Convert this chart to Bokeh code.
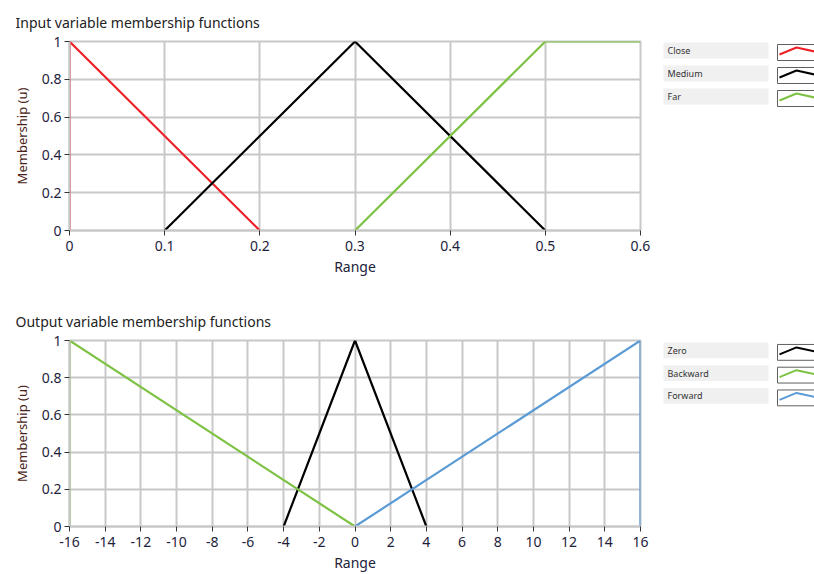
from bokeh.plotting import figure
from bokeh.models import Range1d, FixedTicker, Title
from bokeh.layouts import column, row
from bokeh.embed import file_html
from bokeh.resources import INLINE
from bokeh.core.properties import value

# ---------------- data ----------------
in_names = ["Close", "Medium", "Far"]
in_colors = ["#ee2127", "#000000", "#7dc242"]
close_x = [0, 0, 0.2]
close_y = [0, 1, 0]
medium_x = [0.1, 0.3, 0.5]
medium_y = [0, 1, 0]
far_x = [0.3, 0.5, 0.6]
far_y = [0, 1, 1]
in_ticks = [0, 0.1, 0.2, 0.3, 0.4, 0.5, 0.6]
in_tick_labels = ["0", "0.1", "0.2", "0.3", "0.4", "0.5", "0.6"]

out_names = ["Zero", "Backward", "Forward"]
out_colors = ["#000000", "#7dc242", "#5b9bd5"]
zero_x = [-4, 0, 4]
zero_y = [0, 1, 0]
backward_x = [-16, -16, 0]
backward_y = [0, 1, 0]
forward_x = [0, 16, 16]
forward_y = [0, 1, 0]
out_ticks = list(range(-16, 17, 2))
out_tick_labels = [str(t) for t in out_ticks]

y_ticks = [0, 0.2, 0.4, 0.6, 0.8, 1]
y_tick_labels = ["0", "0.2", "0.4", "0.6", "0.8", "1"]

FONT = "Noto Sans"
TICK_COLOR = "#1e1e3c"
GRID = "#c8c8c8"


def make_plot(title, xr, xticks, xlabels, height, top, bottom):
    p = figure(width=650, height=height, x_range=xr, y_range=Range1d(0, 1),
               output_backend="svg", toolbar_location=None, title=None,
               min_border_left=69, min_border_right=10,
               min_border_top=top, min_border_bottom=bottom)
    p.add_layout(Title(text=title, align="left", offset=-54, standoff=20,
                       text_font=FONT, text_font_size="14px",
                       text_font_style="normal", text_color="#222222"), "above")
    p.outline_line_color = GRID
    p.outline_line_width = 2
    p.background_fill_color = "white"
    p.border_fill_color = "white"
    p.xaxis.ticker = FixedTicker(ticks=xticks)
    p.xaxis.major_label_overrides = {t: l for t, l in zip(xticks, xlabels)}
    p.yaxis.ticker = FixedTicker(ticks=y_ticks)
    p.yaxis.major_label_overrides = {t: l for t, l in zip(y_ticks, y_tick_labels)}
    for ax in (p.xaxis, p.yaxis):
        ax.axis_line_color = GRID
        ax.axis_line_width = 2
        ax.major_tick_in = 0
        ax.major_tick_out = 5
        ax.major_tick_line_color = "#333333"
        ax.minor_tick_line_color = None
        ax.major_label_text_font = FONT
        ax.major_label_text_font_size = "14px"
        ax.major_label_text_color = TICK_COLOR
        ax.axis_label_text_font = FONT
        ax.axis_label_text_font_size = "14px"
        ax.axis_label_text_font_style = "normal"
    p.xaxis.axis_label = "Range"
    p.xaxis.axis_label_text_color = "#22223a"
    p.xaxis.axis_label_standoff = 3
    p.xaxis.major_label_standoff = 5
    p.yaxis.axis_label = "Membership (u)"
    p.yaxis.axis_label_text_font_size = "13px"
    p.yaxis.axis_label_text_color = "#4a2418"
    p.yaxis.axis_label_standoff = 8
    p.yaxis.major_label_standoff = 3
    p.grid.grid_line_color = GRID
    p.grid.grid_line_width = 2
    return p


def make_legend(names, colors, height, top, bottom, frame_top, first_row):
    frame_bottom = frame_top + height - top - bottom
    l = figure(width=164, height=height, x_range=Range1d(650, 814),
               y_range=Range1d(frame_bottom, frame_top), output_backend="svg",
               toolbar_location=None, min_border_left=0, min_border_right=0,
               min_border_top=top, min_border_bottom=bottom)
    l.axis.visible = False
    l.grid.visible = False
    l.outline_line_color = None
    l.border_fill_color = "white"
    n = len(names)
    tops = [first_row + 23 * i for i in range(n)]
    l.quad(left=[663] * n, right=[768] * n, top=tops, bottom=[t + 16 for t in tops],
           fill_color="#f0f0f0", line_color=None)
    l.text(x=[667] * n, y=[t + 8 for t in tops], text=names,
           text_font=value(FONT), text_font_size="9px", text_color="#333333",
           text_baseline="middle")
    l.quad(left=[777] * n, right=[830] * n, top=[t + 2 for t in tops],
           bottom=[t + 18 for t in tops], fill_color="white",
           line_color="#606060", line_width=1)
    l.multi_line(xs=[[779, 796, 814]] * n,
                 ys=[[t + 12, t + 5, t + 9] for t in tops],
                 line_color=colors, line_width=2)
    return l


H1, T1, B1 = 280, 41, 50
H2, T2, B2 = 294, 60, 46

p1 = make_plot("Input variable membership functions", Range1d(0, 0.6),
               in_ticks, in_tick_labels, H1, T1, B1)
for xs, ys, c in zip([close_x, medium_x, far_x], [close_y, medium_y, far_y], in_colors):
    p1.line(xs, ys, line_color=c, line_width=2.2)
l1 = make_legend(in_names, in_colors, H1, T1, B1, T1, 42)

p2 = make_plot("Output variable membership functions", Range1d(-16, 16),
               out_ticks, out_tick_labels, H2, T2, B2)
for xs, ys, c in zip([zero_x, backward_x, forward_x], [zero_y, backward_y, forward_y], out_colors):
    p2.line(xs, ys, line_color=c, line_width=2.2)
l2 = make_legend(out_names, out_colors, H2, T2, B2, H1 + T2, 342)

layout = column(row(p1, l1), row(p2, l2))
open("out.html", "w").write(file_html(layout, INLINE))
